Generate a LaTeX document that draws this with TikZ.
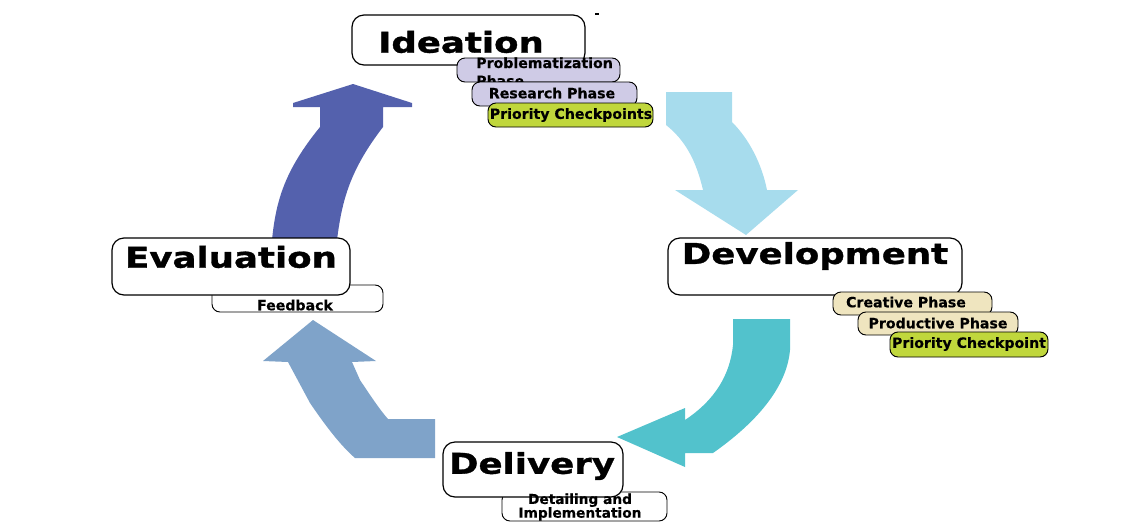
\documentclass[tikz,border=0pt]{standalone}
\usepackage{fontspec}
\setmainfont{DejaVu Sans}
\newfontfamily\wideface[FakeStretch=1.24, FakeBold=1.2]{DejaVu Sans}
\newfontfamily\subface[FakeBold=0.4]{DejaVu Sans}
\definecolor{arrA}{HTML}{5461AD}
\definecolor{arrB}{HTML}{A7DCED}
\definecolor{arrC}{HTML}{52C2CC}
\definecolor{arrD}{HTML}{7FA3C9}
\definecolor{lav}{HTML}{CFCBE6}
\definecolor{grn}{HTML}{C0D73C}
\definecolor{bge}{HTML}{EFE5BF}
\tikzset{
  mainbox/.style={draw=black, line width=0.9pt, fill=white, rounded corners=9pt, inner sep=0pt},
  subbox/.style={draw=black, line width=0.7pt, rounded corners=6pt, inner sep=0pt},
  sz/.style 2 args={minimum width=#1*0.75pt, minimum height=#2*0.75pt},
  mainlab/.style={font=\wideface\bfseries\fontsize{21.5}{24}\selectfont, inner sep=0pt, text=black},
  sublab/.style={font=\subface\bfseries\fontsize{10.6}{11}\selectfont, inner sep=0pt, text=black},
}
\begin{document}
\begin{tikzpicture}[x=0.75pt,y=-0.75pt]
\useasboundingbox (0,0) rectangle (1143,522);
\clip (0,0) rectangle (1143,522);
% big curved arrows
\fill[arrA] (272,240) .. controls (276,200) and (285,170) .. (320,127) -- (320,107) -- (293,107) -- (293,103) -- (353,84) -- (412,103) -- (412,107) -- (383,107) -- (383,127) .. controls (350,170) and (342,200) .. (337,240) -- cycle;
\fill[arrB] (666,92) -- (732,92) -- (732,122) .. controls (750,140) and (762,165) .. (767,190) -- (798,190) -- (746,235) -- (675,190) -- (703,190) .. controls (696,160) and (685,140) .. (666,125) -- cycle;
\fill[arrC] (733,319) -- (790,319) -- (790,350) .. controls (787,385) and (760,420) .. (713,453) -- (685,453) -- (685,467) -- (617,437) -- (685,408) -- (685,420) .. controls (715,400) and (730,375) .. (733,345) -- cycle;
\fill[arrD] (313,320) -- (376,361) -- (352,362) -- (360,380) .. controls (370,395) and (380,410) .. (388,419) -- (435,419) -- (435,458) -- (355,458) .. controls (340,445) and (325,425) .. (310,403) -- (288,362) -- (263,361) -- cycle;
% small dot
\node[rectangle, fill=black, inner sep=0pt, minimum width=2.5pt, minimum height=1.6pt] (dot) at (597,14) {};
% Ideation
\node[mainbox, sz={233}{50}] (ideabox) at (468.5,40) {};
\node[mainlab] (idea) at (461,42) {Ideation};
\node[subbox, fill=lav, sz={163}{24}] (probbox) at (538.5,70) {};
\node[sublab, align=left, anchor=north west, font=\subface\bfseries\fontsize{10.6}{13.5}\selectfont] (prob) at (476,57) {Problematization\\Phase};
\node[subbox, fill=lav, sz={165}{24}] (resbox) at (554.5,94) {};
\node[sublab] (res) at (552,93) {Research Phase};
\node[subbox, fill=grn, sz={165}{24}] (pri1box) at (570.5,115) {};
\node[sublab] (pri1) at (571,115) {Priority Checkpoints};
% Development
\node[mainbox, sz={294}{57}] (devbox) at (815,266.5) {};
\node[mainlab] (dev) at (815,256) {Development};
\node[subbox, fill=bge, sz={159}{23}] (crebox) at (912.5,303.5) {};
\node[sublab] (cre) at (906,302) {Creative Phase};
\node[subbox, fill=bge, sz={160}{23}] (probox) at (938,323.5) {};
\node[sublab] (pro) at (938,323) {Productive Phase};
\node[subbox, fill=grn, sz={158}{25}] (pri2box) at (969,344.5) {};
\node[sublab] (pri2) at (969,344) {Priority Checkpoint};
% Evaluation
\node[subbox, fill=white, sz={171}{27}] (feedbox) at (297.5,298.5) {};
\node[sublab] (feed) at (295,305) {Feedback};
\node[mainbox, sz={238}{57}] (evalbox) at (231,266.5) {};
\node[mainlab] (eval) at (231,257) {Evaluation};
% Delivery
\node[subbox, fill=white, sz={165}{29}] (detbox) at (584.5,506.5) {};
\node[mainbox, sz={180}{55}] (delbox) at (533,469.5) {};
\node[mainlab] (del) at (532,466) {Delivery};
\node[sublab, align=center, font=\subface\bfseries\fontsize{10.3}{10.3}\selectfont] (det) at (580,507) {Detailing and\\Implementation};
\end{tikzpicture}
\end{document}
